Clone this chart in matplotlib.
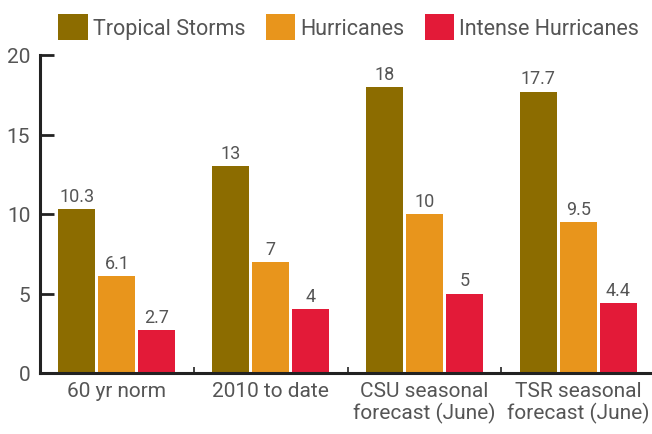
import matplotlib.pyplot as plt
import numpy as np

plt.rcParams['font.family'] = ['Roboto', 'DejaVu Sans']

groups = ["60 yr norm", "2010 to date", "CSU seasonal\nforecast (June)", "TSR seasonal\nforecast (June)"]
series = ["Tropical Storms", "Hurricanes", "Intense Hurricanes"]
tropical = [10.3, 13, 18, 17.7]
hurricanes = [6.1, 7, 10, 9.5]
intense = [2.7, 4, 5, 4.4]
labels_t = ["10.3", "13", "18", "17.7"]
labels_h = ["6.1", "7", "10", "9.5"]
labels_i = ["2.7", "4", "5", "4.4"]
colors = ["#8C6C00", "#E8951C", "#E31A38"]
grey = "#555555"

fig = plt.figure(figsize=(6.52, 4.35), dpi=100)
ax = fig.add_axes([40/652, 1 - 374/435, 1 - 40/652, (374 - 56)/435])

x = np.arange(len(groups))
w = 0.24
off = 0.26
handles = []
for i, (vals, labs) in enumerate(zip([tropical, hurricanes, intense], [labels_t, labels_h, labels_i])):
    b = ax.bar(x + (i - 1) * off, vals, w, color=colors[i], label=series[i])
    ax.bar_label(b, labels=labs, padding=3, fontsize=13, color=grey)
    handles.append(b)

ax.set_xlim(-0.5, 3.48)
ax.set_ylim(0, 20)
ax.set_yticks([0, 5, 10, 15, 20])
ax.tick_params(axis='y', direction='in', length=10, width=2, color="#222222",
               labelsize=15, labelcolor=grey, pad=7)
ax.set_xticks(x)
ax.set_xticklabels(groups, fontsize=15, color=grey, linespacing=1.1)
ax.tick_params(axis='x', length=0, pad=6)
ax.set_xticks([0.5, 1.5, 2.5], minor=True)
ax.tick_params(axis='x', which='minor', direction='in', length=4, width=1.2, color="#222222")

for s in ['top', 'right']:
    ax.spines[s].set_visible(False)
for s in ['left', 'bottom']:
    ax.spines[s].set_linewidth(2.2)
    ax.spines[s].set_color("#222222")

fig.legend(handles=handles, labels=series, loc='center', bbox_to_anchor=(0.535, 0.936),
           ncol=3, frameon=False, fontsize=15.5, labelcolor=grey,
           handlelength=1.35, handleheight=1.5, handletextpad=0.25, columnspacing=0.95)

fig.savefig("out.png", dpi=100)
